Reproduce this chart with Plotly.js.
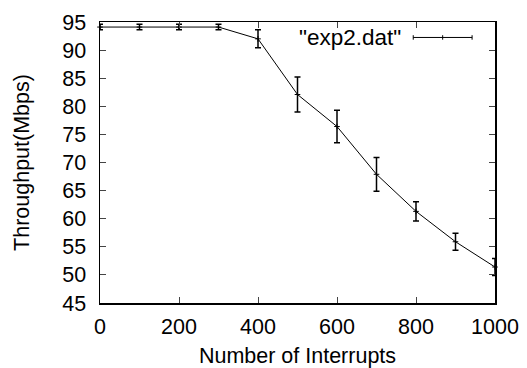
<!DOCTYPE html>
<html>
<head>
<meta charset="utf-8">
<script src="https://cdn.plot.ly/plotly-3.0.1.min.js"></script>
<style>html,body{margin:0;padding:0;background:#fff;}#chart{width:527px;height:368px;}</style>
</head>
<body>
<div id="chart"></div>
<script>
const interrupts = [0, 100, 200, 300, 400, 500, 600, 700, 800, 900, 1000];
const throughput = [94.1, 94.1, 94.1, 94.1, 92.0, 82.1, 76.4, 67.9, 61.3, 55.9, 51.4];
const errors = [0.5, 0.5, 0.5, 0.5, 1.6, 3.1, 2.9, 3.0, 1.7, 1.5, 1.5];
const seriesName = '"exp2.dat"';
const xTitle = 'Number of Interrupts';
const yTitle = 'Throughput(Mbps)';

const font = {family: 'Liberation Sans, Arial, sans-serif', size: 21.5, color: '#000'};

const trace = {
  x: interrupts, y: throughput, type: 'scatter', mode: 'lines+markers',
  name: seriesName, showlegend: false, cliponaxis: false,
  line: {color: '#000', width: 1},
  marker: {symbol: 'cross-thin', size: 4, color: '#000', line: {color: '#000', width: 1}},
  error_y: {type: 'data', array: errors, visible: true, color: '#000', thickness: 1.5, width: 3}
};

const lx0 = 0.793, lx1 = 0.942, ly = 0.945, th = 0.008;
const layout = {
  width: 527, height: 368,
  margin: {l: 99.5, r: 32, t: 21.5, b: 64.5},
  paper_bgcolor: '#fff', plot_bgcolor: '#fff',
  font: font, showlegend: false,
  xaxis: {
    range: [0, 1000], dtick: 200, tick0: 0, ticks: 'inside', ticklen: 6, tickwidth: 1,
    mirror: 'allticks', showline: true, linecolor: '#000', linewidth: 1.5,
    showgrid: false, zeroline: false, tickfont: font, ticklabelstandoff: 4,
    title: {text: xTitle, font: font, standoff: 19}
  },
  yaxis: {
    range: [45, 95], dtick: 5, tick0: 45, ticks: 'inside', ticklen: 6, tickwidth: 1,
    mirror: 'allticks', showline: true, linecolor: '#000', linewidth: 1.5,
    showgrid: false, zeroline: false, tickfont: font, ticklabelstandoff: 8,
    title: {text: yTitle, font: font, standoff: 27}
  },
  annotations: [{
    xref: 'paper', yref: 'paper', x: 0.768, y: ly, xanchor: 'right', yanchor: 'middle',
    text: seriesName, showarrow: false, font: Object.assign({}, font, {size: 22.5})
  }],
  shapes: [
    {type: 'line', xref: 'paper', yref: 'paper', x0: lx0, x1: lx1, y0: ly, y1: ly, line: {color: '#000', width: 1}},
    {type: 'line', xref: 'paper', yref: 'paper', x0: lx0, x1: lx0, y0: ly - th, y1: ly + th, line: {color: '#000', width: 1}},
    {type: 'line', xref: 'paper', yref: 'paper', x0: lx1, x1: lx1, y0: ly - th, y1: ly + th, line: {color: '#000', width: 1}},
    {type: 'line', xref: 'paper', yref: 'paper', x0: (lx0 + lx1) / 2, x1: (lx0 + lx1) / 2, y0: ly - th, y1: ly + th, line: {color: '#000', width: 1}}
  ]
};

Plotly.newPlot('chart', [trace], layout, {displayModeBar: false, staticPlot: true});
</script>
</body>
</html>
